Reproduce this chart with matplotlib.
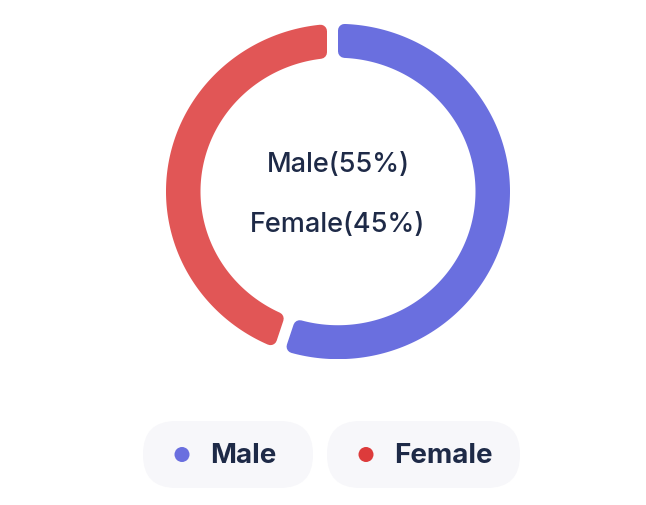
import numpy as np
import matplotlib.pyplot as plt
from matplotlib.patches import Polygon, FancyBboxPatch, Circle

labels = ["Male", "Female"]
values = [55, 45]
ring_colors = ["#6A6FDF", "#E15656"]
dot_colors = ["#6A6FDF", "#DD3B3B"]
text_color = "#1E2A47"
font = "Inter"

W, H = 646, 505
fig = plt.figure(figsize=(W / 100, H / 100), dpi=100)
ax = fig.add_axes([0, 0, 1, 1])
ax.set_xlim(0, W)
ax.set_ylim(H, 0)
ax.axis("off")

# ring axes (slightly elliptical like the reference)
x0, x1, y0, y1 = 166, 510, 24, 359
axr = fig.add_axes([x0 / W, (H - y1) / H, (x1 - x0) / W, (y1 - y0) / H])
axr.set_xlim(-1, 1)
axr.set_ylim(-1, 1)
axr.axis("off")

rx = (x1 - x0) / 2
r_out, r_in = 1.0, 1 - 34.5 / rx
c = 6.5 / rx         # corner radius (normalised)
gap = 11.0 / rx      # gap taken out of the following segments
pads = [0.0, gap]

total = sum(values)
start = 0.0
for v, col, pad in zip(values, ring_colors, pads):
    a0 = start / total * 360
    a1 = (start + v) / total * 360
    start += v
    d = pad + c
    ro, ri = r_out - c, r_in + c

    def th(a):
        return np.deg2rad(90 - a)
    t0o = th(a0) - np.arcsin(d / ro)
    t1o = th(a1) + np.arcsin(d / ro)
    t0i = th(a0) - np.arcsin(d / ri)
    t1i = th(a1) + np.arcsin(d / ri)
    to = np.linspace(t0o, t1o, 200)
    ti = np.linspace(t1i, t0i, 200)
    pts = np.vstack([np.column_stack([ro * np.cos(to), ro * np.sin(to)]),
                     np.column_stack([ri * np.cos(ti), ri * np.sin(ti)])])
    axr.add_patch(Polygon(pts, closed=True, facecolor=col, edgecolor=col,
                          linewidth=2 * 6.5 * 72 / 100, joinstyle="round"))

# center texts
cx = 338
for i, (lab, v) in enumerate(zip(labels, values)):
    ax.text(cx, 165 + 60 * i, f"{lab}({v}%)", ha="center", va="center",
            fontsize=19.5, fontweight="medium", color=text_color, family=font)

# legend pills
boxes = [(143, 313), (327, 520)]
for (bx0, bx1), lab, col in zip(boxes, labels, dot_colors):
    ax.add_patch(FancyBboxPatch((bx0, 421), bx1 - bx0, 67,
                                boxstyle="round,pad=0,rounding_size=33",
                                facecolor="#F7F7FA", edgecolor="none"))
    ax.add_patch(Circle((bx0 + 39, 454.5), 7.5, facecolor=col, edgecolor="none"))
    ax.text(bx0 + 67, 456, lab, ha="left", va="center", fontsize=20,
            fontweight="bold", color=text_color, family=font)

fig.savefig("out.png", dpi=100, facecolor="white")
